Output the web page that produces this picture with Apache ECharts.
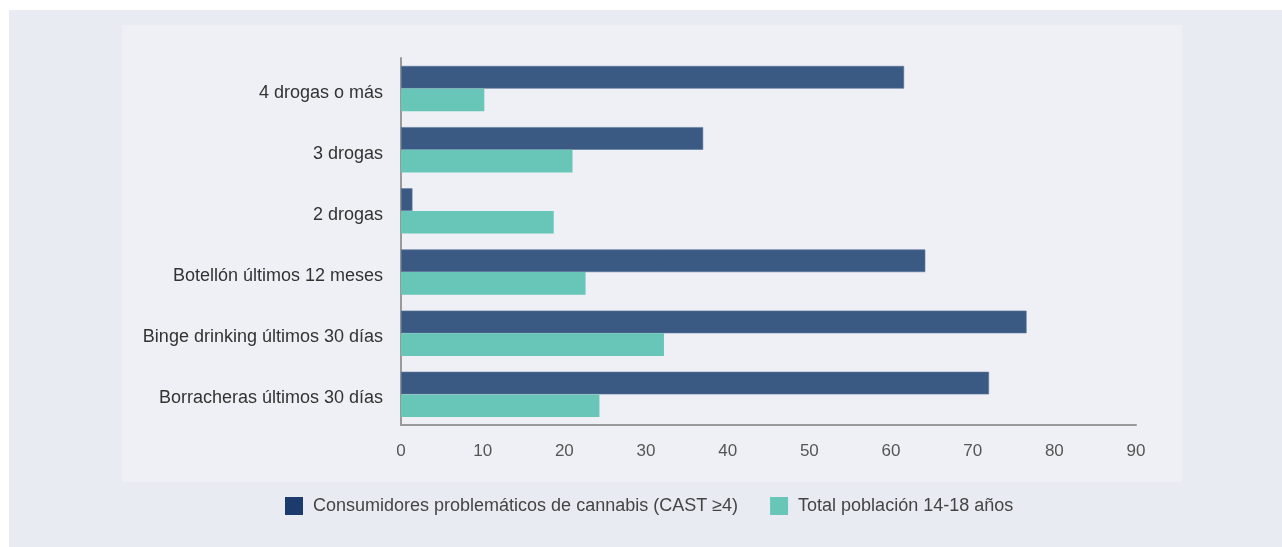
<!DOCTYPE html>
<html>
<head>
<meta charset="utf-8">
<script src="https://cdn.jsdelivr.net/npm/echarts@6/dist/echarts.min.js"></script>
<style>
html,body{margin:0;padding:0;background:#ffffff;}
#chart{width:1282px;height:547px;}
</style>
</head>
<body>
<div id="chart"></div>
<script>
var categories = ['4 drogas o más', '3 drogas', '2 drogas', 'Botellón últimos 12 meses', 'Binge drinking últimos 30 días', 'Borracheras últimos 30 días'];
var seriesNames = ['Consumidores problemáticos de cannabis (CAST ≥4)', 'Total población 14-18 años'];
var cannabisValues = [61.6, 37.0, 1.4, 64.2, 76.6, 72.0];
var totalValues = [10.2, 21.0, 18.7, 22.6, 32.2, 24.3];
var xTicks = [0, 10, 20, 30, 40, 50, 60, 70, 80, 90];

var FONT = '"Liberation Sans", Arial, sans-serif';
var chart = echarts.init(document.getElementById('chart'), null, {renderer: 'canvas'});
chart.setOption({
  animation: false,
  backgroundColor: '#ffffff',
  textStyle: {fontFamily: FONT},
  graphic: [
    {type: 'rect', z: -10, silent: true, shape: {x: 9, y: 10, width: 1273, height: 537}, style: {fill: '#e9ebf3'}},
    {type: 'rect', z: -9, silent: true, shape: {x: 122, y: 25, width: 1060, height: 457}, style: {fill: '#eef0f6'}}
  ],
  grid: {left: 401, right: 146, top: 58, bottom: 122, containLabel: false},
  legend: {
    top: 497,
    left: 285,
    padding: 0,
    itemWidth: 18,
    itemHeight: 18,
    itemGap: 32,
    icon: 'rect',
    itemStyle: {borderWidth: 0},
    textStyle: {fontFamily: FONT, fontSize: 18, color: '#444444', padding: [2, 0, 0, 5]},
    data: [
      {name: seriesNames[0], itemStyle: {color: '#1b3b6c', borderWidth: 0}},
      {name: seriesNames[1], itemStyle: {color: '#68c6b8', borderWidth: 0}}
    ]
  },
  xAxis: {
    type: 'value',
    min: xTicks[0],
    max: xTicks[xTicks.length - 1],
    interval: xTicks[1] - xTicks[0],
    axisLine: {show: true, lineStyle: {color: '#9a9a9a', width: 2}},
    axisTick: {show: false},
    splitLine: {show: false},
    axisLabel: {fontFamily: FONT, fontSize: 17, color: '#555555', margin: 18}
  },
  yAxis: {
    type: 'category',
    data: categories,
    inverse: true,
    axisLine: {show: true, lineStyle: {color: '#9a9a9a', width: 2}},
    axisTick: {show: false},
    axisLabel: {fontFamily: FONT, fontSize: 18, color: '#333333', margin: 18, verticalAlign: 'top', lineHeight: 8}
  },
  series: [
    {
      name: seriesNames[0],
      type: 'bar',
      data: cannabisValues,
      barGap: '0%',
      barCategoryGap: '26%',
      itemStyle: {color: '#3b5a83', borderColor: '#5b7598', borderWidth: 0.6}
    },
    {
      name: seriesNames[1],
      type: 'bar',
      data: totalValues,
      barGap: '0%',
      barCategoryGap: '26%',
      itemStyle: {color: '#68c6b8'}
    }
  ]
});
</script>
</body>
</html>
